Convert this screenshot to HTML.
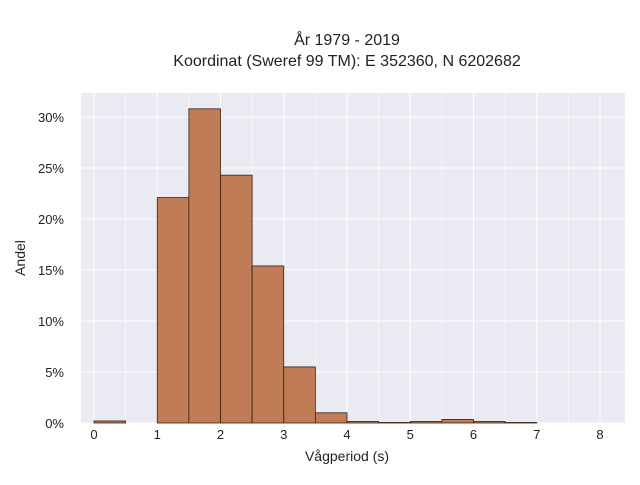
<!DOCTYPE html>
<html><head><meta charset="utf-8"><style>
body{margin:0;background:#fff;}
svg text{font-family:"Liberation Sans",sans-serif;fill:#222;}
</style></head><body>
<svg width="640" height="480" xmlns="http://www.w3.org/2000/svg">
<text x="347" y="45" text-anchor="middle" font-size="16">År 1979 - 2019</text>
<text x="347" y="66" text-anchor="middle" font-size="16">Koordinat (Sweref 99 TM): E 352360, N 6202682</text>
<rect x="81" y="93" width="544" height="330" fill="#eaeaf2"/>
<g id="grid"></g><g id="bars"></g><g id="ticks"></g>
<text x="347" y="461" text-anchor="middle" font-size="14">Vågperiod (s)</text>
<text x="25" y="258" text-anchor="middle" font-size="14" transform="rotate(-90 25 258)">Andel</text>
</svg>
<script>
const binStarts=[0,0.5,1,1.5,2,2.5,3,3.5,4,4.5,5,5.5,6,6.5,7,7.5];
const binWidth=0.5;
const shares=[0.2,0,22.1,30.8,24.3,15.4,5.5,1.0,0.15,0.05,0.15,0.35,0.15,0.05,0,0];
const xTicks=[0,1,2,3,4,5,6,7,8];
const yTicks=[0,5,10,15,20,25,30];
const ns="http://www.w3.org/2000/svg";
const X=v=>94+v*63.25, Y=v=>423-v*10.2;
function mk(t,a,p){const e=document.createElementNS(ns,t);for(const k in a)e.setAttribute(k,a[k]);p.appendChild(e);return e;}
const g=document.getElementById('grid'),b=document.getElementById('bars'),tk=document.getElementById('ticks');
for(let v=0;v<=8;v+=0.5){const l=mk('line',{x1:X(v),x2:X(v),y1:93,y2:423,stroke:'#fff','stroke-width':v%1?0.6:1},g);

}
yTicks.forEach(v=>{const l=mk('line',{x1:81,x2:625,y1:Y(v),y2:Y(v),stroke:'#fff','stroke-width':1},g);


const t=mk('text',{x:64,y:Y(v)+5,'text-anchor':'end','font-size':13},tk);t.textContent=v+'%';

});
xTicks.forEach(v=>{const t=mk('text',{x:X(v),y:439,'text-anchor':'middle','font-size':13},tk);t.textContent=v;

});
binStarts.forEach((s,i)=>{if(shares[i]<=0)return;const r=mk('rect',{x:X(s),y:Y(shares[i]),width:X(s+binWidth)-X(s),height:423-Y(shares[i]),fill:'#bf7c56',stroke:'#3a2010','stroke-width':0.8},b);

});
</script>
</body></html>
